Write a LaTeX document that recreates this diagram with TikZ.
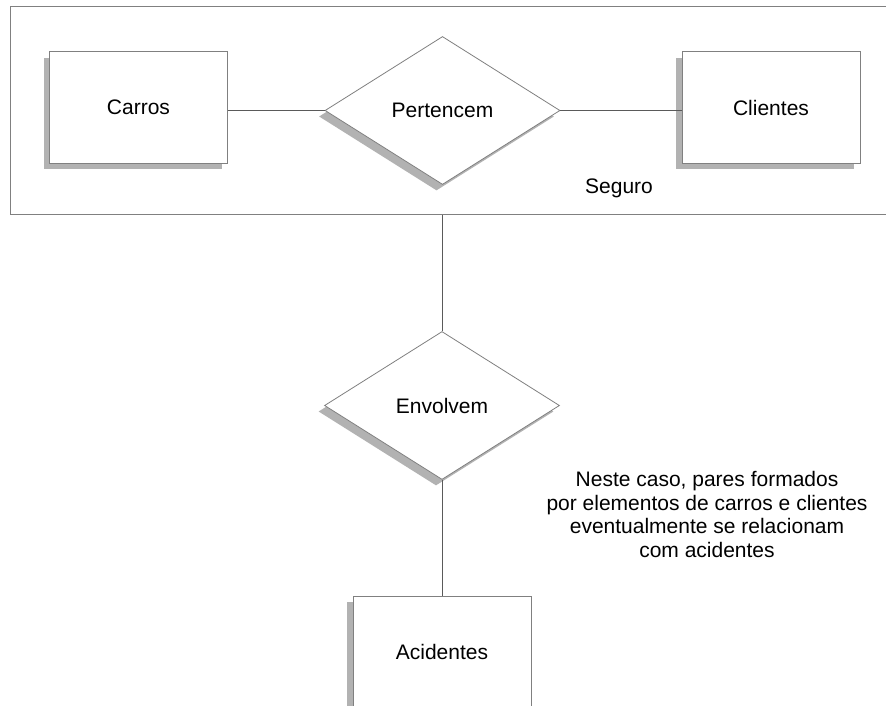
\documentclass[tikz,border=0pt]{standalone}
\usepackage{fontspec}
\setmainfont{Liberation Sans}
\usetikzlibrary{shapes.geometric,shadows}
\definecolor{edgegray}{HTML}{808080}
\definecolor{linkgray}{HTML}{5A5A5A}
\definecolor{shadegray}{HTML}{B2B2B2}
\tikzset{
  erfont/.style={font=\fontsize{21}{23.5}\selectfont},
  erdrop/.style={drop shadow={shadow xshift=-6pt, shadow yshift=-6pt, fill=shadegray, opacity=1}},
  entity/.style={rectangle, draw=edgegray, line width=1pt, fill=white, erdrop,
    minimum width=178pt, minimum height=111pt, inner sep=0pt, erfont},
  relation/.style={diamond, draw=edgegray, line width=0.8pt, fill=white, erdrop,
    minimum width=235pt, minimum height=148pt, inner sep=0pt, erfont},
  aggregate/.style={rectangle, draw=edgegray, line width=1pt, inner sep=0pt},
  link/.style={draw=linkgray, line width=0.9pt},
  plain/.style={inner sep=0pt, erfont}
}
\begin{document}
\begin{tikzpicture}[x=1pt, y=-1pt]
  \useasboundingbox (0,0) rectangle (886,706);
  \fill[white] (0,0) rectangle (886,706);
  \clip (0,0) rectangle (886,706);

  % aggregation box around the "Pertencem" relationship
  \node[aggregate, minimum width=900pt, minimum height=208pt, anchor=north west] (seguro) at (10,6) {};
  \node[plain] (segurolabel) at (619,188) {Seguro};

  % entities and relationships
  \node[entity] (carros) at (138.5,107.5) {Carros};
  \node[entity] (clientes) at (771,107.5) {Clientes};
  \node[relation] (pertencem) at (442.5,110.5) {Pertencem};
  \node[relation] (envolvem) at (442,405.5) {Envolvem};
  \node[entity] (acidentes) at (442,651.5) {Acidentes};

  % connectors
  \draw[link] (pertencem.west -| carros.east) -- (pertencem.west);
  \draw[link] (pertencem.east) -- (pertencem.east -| clientes.west);
  \draw[link] (envolvem.north) -- (envolvem.north |- seguro.south);
  \draw[link] (envolvem.south) -- (acidentes.north);

  % note
  \node[plain, align=center, anchor=north] (nota) at (707,471.5)
    {Neste caso, pares formados\\por elementos de carros e clientes\\eventualmente se relacionam\\com acidentes};
\end{tikzpicture}
\end{document}
